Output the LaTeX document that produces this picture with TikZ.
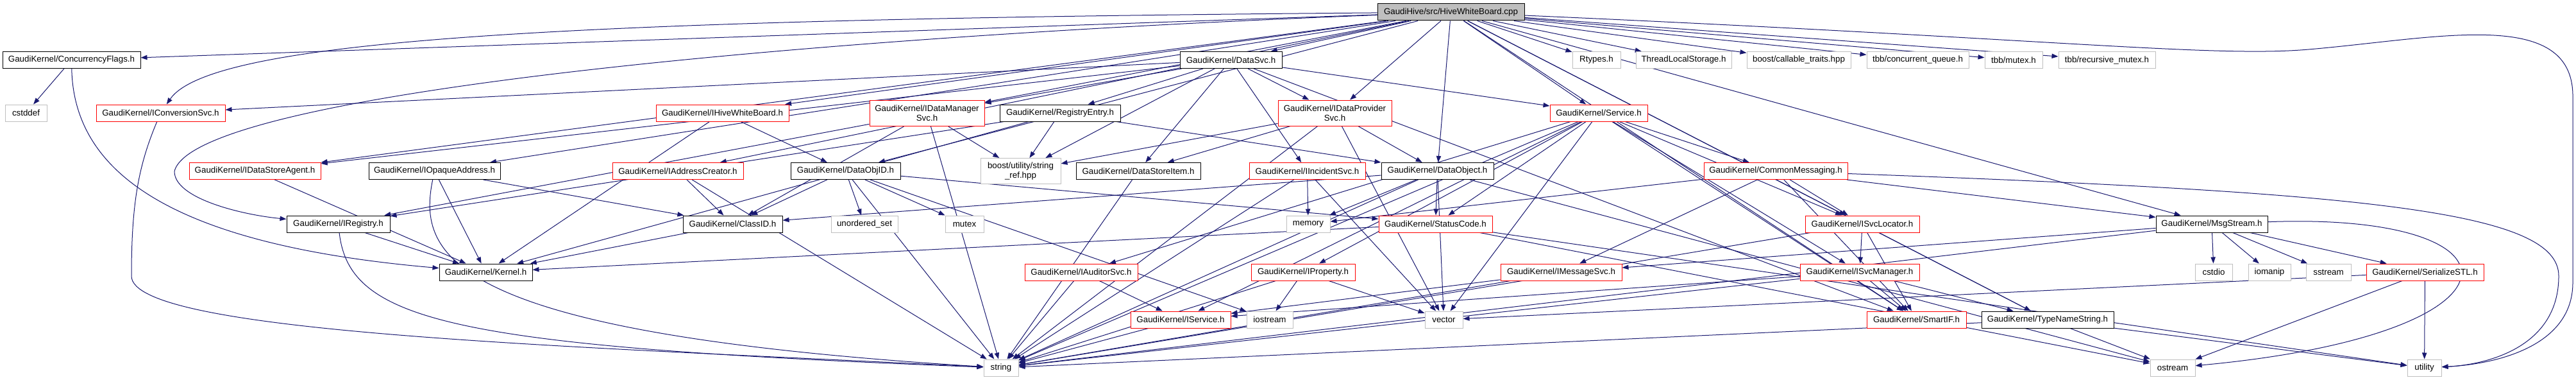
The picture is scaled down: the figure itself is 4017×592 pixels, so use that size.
\documentclass[tikz,border=0pt]{standalone}
\usepackage{fontspec}
\setmainfont{Liberation Sans}
\usetikzlibrary{arrows.meta, backgrounds}
\definecolor{edgeblue}{HTML}{191970}
\definecolor{boxgray}{HTML}{BFBFBF}
\tikzset{hbox/.style={draw=black, fill=white, line width=0.75pt, inner sep=0pt, minimum height=19.5pt, align=center, font=\fontsize{10}{11}\selectfont}}
\tikzset{hred/.style={hbox, draw=red}}
\tikzset{hsys/.style={hbox, draw=boxgray}}
\tikzset{hroot/.style={hbox, fill=boxgray}}
\tikzset{tall/.style={minimum height=30pt}}
\tikzset{bw/.style={minimum width=#1*0.75pt}}
\tikzset{dep/.style={draw=edgeblue, line width=0.75pt, -{Triangle[length=7.5pt, width=5.5pt]}}}

\begin{document}
\begin{tikzpicture}[x=0.75pt, y=0.75pt]
                        \useasboundingbox (0, 0) rectangle (4017, -592);

                        \node[hroot, bw=229] (root) at (2262.5, -19) {GaudiHive/src/HiveWhiteBoard.cpp};

                        % row 1
                        \node[hbox, bw=215] (cflags) at (111.5, -93.5) {GaudiKernel/ConcurrencyFlags.h};
                        \node[hbox, bw=159] (dsvc) at (1919.5, -93.5) {GaudiKernel/DataSvc.h};
                        \node[hsys, bw=75] (rtypes) at (2489.5, -93.5) {Rtypes.h};
                        \node[hsys, bw=149] (tls) at (2625.5, -93.5) {ThreadLocalStorage.h};
                        \node[hsys, bw=162] (callable) at (2805, -93.5) {boost/callable\_traits.hpp};
                        \node[hsys, bw=159] (cqueue) at (2990.5, -93.5) {tbb/concurrent\_queue.h};
                        \node[hsys, bw=90] (tbbmutex) at (3140, -93.5) {tbb/mutex.h};
                        \node[hsys, bw=151] (rmutex) at (3285.5, -93.5) {tbb/recursive\_mutex.h};

                        % row 2
                        \node[hsys, bw=65] (cstddef) at (40.5, -176) {cstddef};
                        \node[hred, bw=201] (iconv) at (250.5, -176) {GaudiKernel/IConversionSvc.h};
                        \node[hred, bw=207] (ihive) at (1126.5, -176) {GaudiKernel/IHiveWhiteBoard.h};
                        \node[hred, tall, bw=179] (idmgr) at (1445.5, -176.5) {GaudiKernel/IDataManager\\Svc.h};
                        \node[hbox, bw=188] (regent) at (1653, -176) {GaudiKernel/RegistryEntry.h};
                        \node[hred, tall, bw=177] (idprov) at (2081.5, -176) {GaudiKernel/IDataProvider\\Svc.h};
                        \node[hred, bw=152] (service) at (2493, -176) {GaudiKernel/Service.h};

                        % row 3
                        \node[hred, bw=205] (idsa) at (397.5, -266.5) {GaudiKernel/IDataStoreAgent.h};
                        \node[hbox, bw=205] (iopaque) at (677.5, -266.5) {GaudiKernel/IOpaqueAddress.h};
                        \node[hred, bw=204] (iaddr) at (1057, -266.5) {GaudiKernel/IAddressCreator.h};
                        \node[hbox, bw=171] (dobjid) at (1318.5, -266.5) {GaudiKernel/DataObjID.h};
                        \node[hsys, tall, bw=125] (strref) at (1591.5, -266.5) {boost/utility/string\\\_ref.hpp};
                        \node[hbox, bw=194] (dsitem) at (1775, -266.5) {GaudiKernel/DataStoreItem.h};
                        \node[hred, bw=181] (iinc) at (2038.5, -266.5) {GaudiKernel/IIncidentSvc.h};
                        \node[hbox, bw=175] (dobj) at (2241.5, -266.5) {GaudiKernel/DataObject.h};
                        \node[hred, bw=224] (cmsg) at (2769, -266.5) {GaudiKernel/CommonMessaging.h};

                        % row 4
                        \node[hbox, bw=161] (ireg) at (527.5, -349) {GaudiKernel/IRegistry.h};
                        \node[hbox, bw=155] (classid) at (1142.5, -349) {GaudiKernel/ClassID.h};
                        \node[hsys, bw=104] (uset) at (1348, -349) {unordered\_set};
                        \node[hsys, bw=60] (mutex) at (1504, -349) {mutex};
                        \node[hsys, bw=68] (memory) at (2040, -349) {memory};
                        \node[hred, bw=177] (status) at (2238.5, -349) {GaudiKernel/StatusCode.h};
                        \node[hred, bw=178] (isvcloc) at (2904, -349) {GaudiKernel/ISvcLocator.h};
                        \node[hbox, bw=174] (msgs) at (3449, -349) {GaudiKernel/MsgStream.h};

                        % row 5
                        \node[hbox, bw=145] (kernel) at (757.5, -424) {GaudiKernel/Kernel.h};
                        \node[hred, bw=176] (iaud) at (1686, -424) {GaudiKernel/IAuditorSvc.h};
                        \node[hred, bw=162] (iprop) at (2032, -424) {GaudiKernel/IProperty.h};
                        \node[hred, bw=189] (imsg) at (2434.5, -424) {GaudiKernel/IMessageSvc.h};
                        \node[hred, bw=186] (isvcmgr) at (2900, -424) {GaudiKernel/ISvcManager.h};
                        \node[hsys, bw=58] (cstdio) at (3452, -424) {cstdio};
                        \node[hsys, bw=66] (iomanip) at (3539, -424) {iomanip};
                        \node[hsys, bw=70] (sstream) at (3631, -424) {sstream};
                        \node[hred, bw=183] (serstl) at (3781.5, -424) {GaudiKernel/SerializeSTL.h};

                        % row 6
                        \node[hred, bw=156] (iservice) at (1841, -498) {GaudiKernel/IService.h};
                        \node[hsys, bw=72] (iostream) at (1980, -498) {iostream};
                        \node[hsys, bw=59] (vector) at (2251.5, -498) {vector};
                        \node[hred, bw=155] (smartif) at (2988.5, -498) {GaudiKernel/SmartIF.h};
                        \node[hbox, bw=206] (tnstr) at (3193, -498) {GaudiKernel/TypeNameString.h};

                        % row 7
                        \node[hsys, bw=54] (string) at (1561, -573) {string};
                        \node[hsys, bw=70] (ostream) at (3388, -573) {ostream};
                        \node[hsys, bw=53] (utility) at (3780.5, -573) {utility};

                        \begin{scope}[on background layer, every edge/.style={dep}]
                        \path (root) edge (cflags) edge (idsa)
                        edge (iopaque) edge (ihive) edge (iaddr) edge (dobjid) edge (idmgr)
                        edge (dsvc) edge (idprov) edge (dobj) edge (service) edge (isvcloc)
                        edge (smartif) edge (tnstr) edge (msgs) edge (rtypes) edge (tls)
                        edge (callable) edge (cqueue) edge (tbbmutex) edge (rmutex);
                        % long sweeps
                        \draw[dep] (root) .. controls (900, -30) and (330, -60) .. (iconv);
                        \draw[dep] (root) .. controls (1200, -60) and (300, -150) .. (272, -267)
                        .. controls (272, -310) and (380, -335) .. (ireg);
                        \draw[dep] (root) .. controls (3200, -60) and (3450, -90) .. (3600, -77)
                        .. controls (3800, -60) and (4012, -10) .. (4012, -150) -- (4012, -440)
                        .. controls (4012, -545) and (3880, -568) .. (utility);

                        \path (dsvc) edge (iconv) edge (idsa) edge (idmgr) edge (regent) edge (strref)
                        edge (dsitem) edge (iinc) edge (idprov) edge (service) edge (smartif);
                        \path (cflags) edge (cstddef);
                        \draw[dep] (cflags) .. controls (115, -260) and (250, -380) .. (kernel);
                        \draw[dep] (iconv) .. controls (215, -260) and (205, -320) .. (205, -430)
                        .. controls (205, -520) and (900, -540) .. (string);
                        \path (ihive) edge (dobjid) edge (kernel);
                        \path (idmgr) edge (classid) edge (strref) edge (ireg) edge (string);
                        \path (regent) edge (ireg) edge (strref) edge (dobj) edge (kernel);
                        \path (idprov) edge (strref) edge (dsitem) edge (dobj) edge (string) edge (vector);
                        \path (service) edge (cmsg) edge (iaud) edge (iprop) edge (iservice) edge (isvcloc)
                        edge (isvcmgr) edge (smartif) edge (status) edge (string) edge (vector);
                        \path (idsa) edge (kernel);
                        \path (iopaque) edge (classid) edge (kernel);
                        \draw[dep] (iopaque) .. controls (650, -400) and (700, -520) .. (string);
                        \path (iaddr) edge (classid) edge (string);
                        \path (dobjid) edge (classid) edge (uset) edge (mutex) edge (status) edge (string) edge (iostream);
                        \path (dsitem) edge (string);
                        \path (iinc) edge (memory) edge (string) edge (vector);
                        \path (dobj) edge (classid) edge (status) edge (memory) edge (string) edge (vector) edge (ostream);
                        \path (cmsg) edge (memory) edge (isvcloc) edge (imsg) edge (msgs) edge (smartif);
                        \draw[dep] (cmsg) .. controls (3700, -300) and (3990, -330) .. (3990, -430)
                        .. controls (3990, -540) and (3880, -568) .. (utility);
                        \path (ireg) edge (kernel);
                        \draw[dep] (ireg) .. controls (545, -500) and (700, -540) .. (string);
                        \path (classid) edge (kernel);
                        \path (status) edge (kernel) edge (ostream) edge (utility);
                        \path (isvcloc) edge (isvcmgr) edge (smartif) edge (tnstr) edge (string);
                        \path (msgs) edge (imsg) edge (cstdio) edge (iomanip) edge (sstream) edge (serstl) edge (string);
                        \draw[dep] (msgs) .. controls (3950, -330) and (3960, -520) .. (ostream);
                        \path (iaud) edge (iservice) edge (string);
                        \path (iprop) edge (iostream) edge (vector) edge (string);
                        \path (imsg) edge (iservice) edge (string);
                        \path (isvcmgr) edge (smartif) edge (tnstr) edge (string) edge (iservice);
                        \path (serstl) edge (vector) edge (ostream) edge (utility);
                        \path (iservice) edge (string);
                        \path (tnstr) edge (ostream) edge (string) edge (utility);
                        \end{scope}
                    \end{tikzpicture}
\end{document}
